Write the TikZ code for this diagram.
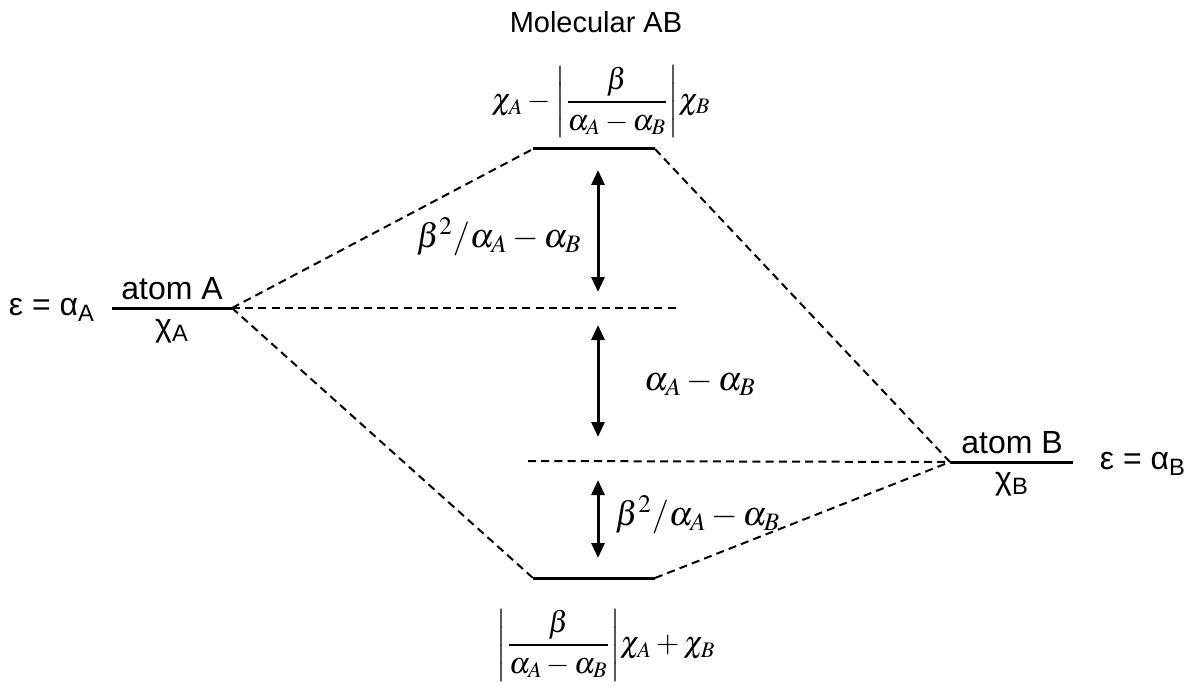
\documentclass[tikz,border=0pt]{standalone}
\usepackage{amsmath}
\usepackage{mathptmx}
\usepackage{fontspec}
\setmainfont{Liberation Sans}
\usetikzlibrary{arrows.meta,positioning}
\tikzset{
  level/.style    = {line width=1.5pt},
  link/.style     = {line width=1pt, dash pattern=on 4pt off 2.6pt},
  gap/.style      = {line width=1.5pt, {Triangle[width=6.5pt,length=7.5pt]}-{Triangle[width=6.5pt,length=7.5pt]}},
  labelstyle/.style = {font=\fontsize{16}{18}\selectfont, inner sep=1pt},
  titlestyle/.style = {font=\fontsize{14.5}{17}\selectfont, inner sep=1pt},
  mathstyle/.style  = {font=\fontsize{17}{20}\selectfont, inner sep=1pt},
  fracstyle/.style  = {font=\fontsize{15}{18}\selectfont, inner sep=1pt}
}
\begin{document}
\begin{tikzpicture}[x=0.5pt, y=-0.5pt]
    \useasboundingbox (0,0) rectangle (1195,690);
    % Level end points
    \coordinate (A1) at (112,308);
    \coordinate (A2) at (232,308);
    \coordinate (U1) at (533,149);
    \coordinate (U2) at (655,149);
    \coordinate (L1) at (533,578);
    \coordinate (L2) at (655,578);
    \coordinate (B1) at (950,462);
    \coordinate (B2) at (1073,462);
    \coordinate (MA) at (680,308);
    \coordinate (MB) at (528,461);
    % Levels
    \draw[level] (A1) -- (A2);
    \draw[level] (B1) -- (B2);
    \draw[level] (U1) -- (U2);
    \draw[level] (L1) -- (L2);
    % Correlation lines
    \draw[link] (A2) -- (U1);
    \draw[link] (A2) -- (L1);
    \draw[link] (U2) -- (B1);
    \draw[link] (L2) -- (B1);
    \draw[link] (A2) -- (MA);
    \draw[link] (MB) -- (B1);
    % Gaps
    \coordinate (g1) at (598,170);
    \coordinate (g2) at (598,292);
    \coordinate (g3) at (598,325);
    \coordinate (g4) at (598,437);
    \coordinate (g5) at (598,480);
    \coordinate (g6) at (598,558);
    \draw[gap] (g1) -- (g2);
    \draw[gap] (g3) -- (g4);
    \draw[gap] (g5) -- (g6);
    % Labels
    \node[titlestyle] (title) at (596,22) {Molecular AB};
    \node[labelstyle] (atomA) at (172,289) {atom A};
    \node[labelstyle] (chiA) at (172,331) {χ\textsubscript{A}};
    \node[labelstyle] (epsA) at (52,310) {ε = α\textsubscript{A}};
    \node[labelstyle] (atomB) at (1012,443) {atom B};
    \node[labelstyle] (chiB) at (1012,484) {χ\textsubscript{B}};
    \node[labelstyle] (epsB) at (1143,464) {ε = α\textsubscript{B}};
    \node[fracstyle] (upper) at (601,102)
      {$\displaystyle \chi_A-{\left|\frac{\beta}{\alpha_A-\alpha_B}\right|}\chi_B$};
    \node[fracstyle] (lower) at (606,645)
      {$\displaystyle {\left|\frac{\beta}{\alpha_A-\alpha_B}\right|}\chi_A+\chi_B$};
    \node[mathstyle] (gapU) at (499,237) {$\beta^2 / \alpha_A-\alpha_B$};
    \node[mathstyle] (gapM) at (700,383) {$\alpha_A-\alpha_B$};
    \node[mathstyle,anchor=west] (gapL) at (613,515) {$\beta^2 / \alpha_A-\alpha_B$};
\end{tikzpicture}
\end{document}
